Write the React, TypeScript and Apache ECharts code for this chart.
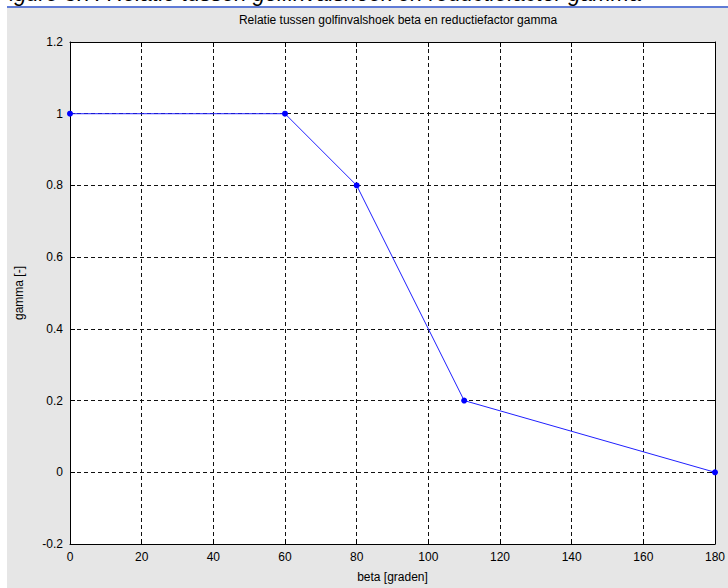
import React, { useEffect, useRef } from "react";
import * as echarts from "echarts";

const betaDeg: number[] = [0, 60, 80, 110, 180];
const gammaVal: number[] = [1, 1, 0.8, 0.2, 0];
const xTicks = { min: 0, max: 180, interval: 20 };
const yTicks = { min: -0.2, max: 1.2, interval: 0.2 };
const titleText = "Relatie tussen golfinvalshoek beta en reductiefactor gamma";
const xName = "beta [graden]";
const yName = "gamma [-]";
const captionText = "Figure 3.7: Relatie tussen golfinvalshoek en reductiefactor gamma";

const FONT = "Arial, 'Liberation Sans', sans-serif";

export default function App() {
  const ref = useRef<HTMLDivElement>(null);
  useEffect(() => {
    document.body.style.margin = "0";
    const chart = echarts.init(ref.current!, null, { renderer: "svg" });
    const fmt = (v: number) => {
      const r = Math.round(v * 10) / 10;
      return (Object.is(r, -0) ? 0 : r).toString();
    };
    const axisCommon = {
      axisLine: { show: true, onZero: false, lineStyle: { color: "#000", width: 1 } },
      axisTick: { show: true, inside: true, length: 5, lineStyle: { color: "#000" } },
    };
    chart.setOption({
      animation: false,
      backgroundColor: "#ffffff",
      textStyle: { fontFamily: FONT },
      graphic: [
        { type: "rect", z: -10, shape: { x: 7, y: 8, width: 721, height: 580 }, style: { fill: "#e6e6e6" } },
        { type: "line", z: -5, shape: { x1: 7, y1: 7, x2: 728, y2: 7 }, style: { stroke: "#2a4fc8", lineWidth: 1.5 } },
        {
          type: "text",
          x: -4,
          y: 4,
          style: {
            text: captionText,
            font: `italic 22px ${FONT}`,
            fill: "#000",
            verticalAlign: "bottom",
            align: "left",
          },
        },
      ],
      title: {
        text: titleText,
        left: 393,
        textAlign: "center",
        top: 9,
        textStyle: { fontSize: 12, fontWeight: "normal", color: "#000", fontFamily: FONT },
      },
      grid: {
        left: 70,
        top: 42,
        right: 11,
        bottom: 44,
        show: true,
        backgroundColor: "#ffffff",
        borderWidth: 0,
      },
      xAxis: [
        {
          type: "value",
          position: "bottom",
          ...xTicks,
          ...axisCommon,
          name: xName,
          nameLocation: "middle",
          nameGap: 27,
          nameTextStyle: { fontSize: 12, color: "#000", fontFamily: FONT },
          axisLabel: { fontSize: 12, color: "#000", margin: 7, fontFamily: FONT },
          splitLine: { show: true, lineStyle: { color: "#111", type: [4, 3], width: 1 } },
        },
        {
          type: "value",
          position: "top",
          ...xTicks,
          ...axisCommon,
          axisLabel: { show: false },
          splitLine: { show: false },
        },
      ],
      yAxis: [
        {
          type: "value",
          position: "left",
          ...yTicks,
          ...axisCommon,
          name: yName,
          nameLocation: "middle",
          nameGap: 45,
          nameTextStyle: { fontSize: 12, color: "#000", fontFamily: FONT },
          axisLabel: { fontSize: 12, color: "#000", margin: 7, formatter: fmt, fontFamily: FONT },
          splitLine: { show: true, lineStyle: { color: "#111", type: [4, 3], width: 1 } },
        },
        {
          type: "value",
          position: "right",
          ...yTicks,
          ...axisCommon,
          axisLabel: { show: false },
          splitLine: { show: false },
        },
      ],
      series: [
        {
          type: "line",
          data: betaDeg.map((b, i) => [b, gammaVal[i]]),
          clip: false,
          symbol: "circle",
          symbolSize: 6,
          itemStyle: { color: "#0000ff" },
          lineStyle: { color: "#2020ff", width: 1 },
          z: 5,
        },
      ],
    });
    return () => chart.dispose();
  }, []);
  return <div ref={ref} style={{ position: "fixed", left: 0, top: 0, width: 728, height: 588 }} />;
}
